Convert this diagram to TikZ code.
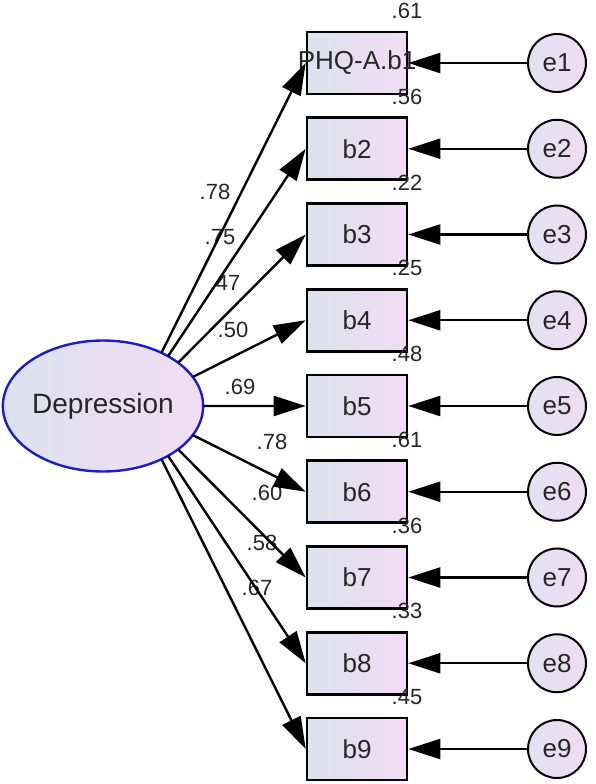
\documentclass[tikz,border=0pt]{standalone}
\usepackage{fontspec}
\setmainfont{Liberation Sans}
\usetikzlibrary{arrows.meta,shapes.geometric,intersections}
\definecolor{txt}{HTML}{262626}
\definecolor{latblue}{HTML}{1C1CC8}
\definecolor{boxleft}{HTML}{DCE2EE}
\definecolor{boxright}{HTML}{F2DCF4}
\definecolor{errleft}{HTML}{E2E2F2}
\definecolor{errright}{HTML}{F0DCF2}

\begin{document}
\begin{tikzpicture}[x=1pt,y=-1pt,>={Triangle[length=32pt,width=20pt]},
    obs/.style={draw,line width=2.6pt,inner sep=0pt,minimum width=100pt,minimum height=62pt,
      left color=boxleft,right color=boxright},
    boxtext/.style={font=\fontsize{26}{30}\selectfont,text=txt},
    err/.style={circle,draw,line width=2pt,inner sep=0pt,minimum size=58pt,
      left color=errleft,right color=errright,font=\fontsize{26}{30}\selectfont,text=txt},
    regline/.style={->,line width=2.4pt},
    coef/.style={font=\fontsize{22}{25}\selectfont,text=txt}]
    \useasboundingbox (0,0) rectangle (595,784);
    % latent factor
    \node[ellipse,draw=latblue,line width=2.4pt,inner sep=0pt,minimum width=200pt,minimum height=131pt,
      left color=boxleft,right color=boxright,font=\fontsize{28}{33}\selectfont,text=txt,
      name path=ell] (dep) at (103,406) {Depression};
    \coordinate (hub) at (135,406);
    % items and errors
    \foreach \t [count=\i] in {PHQ-A.b1,b2,b3,b4,b5,b6,b7,b8,b9} {
      \node[obs,label={[boxtext]center:\t}] (b\i) at (357,{63+85.75*(\i-1)}) {};
      \node[err] (e\i) at (557,{63+85.75*(\i-1)}) {e\i};
    }
    % squared multiple correlations
    \foreach \v [count=\i] in {.61,.56,.22,.25,.48,.61,.36,.33,.45}
      \node[coef] (r\i) at (407,{11+85.75*(\i-1)}) {\v};
    % loadings
    \foreach \v/\x/\y [count=\i] in {.78/215/192,.75/220/237,.47/225/283,.50/233/330,.69/240/387,
      .78/272/442,.60/267/493,.58/262/543,.67/257/588}
      \node[coef] (w\i) at (\x,\y) {\v};
    \foreach \i in {1,...,9} {
      \path[name path=ray\i] (hub) -- (b\i.west);
      \draw[regline,name intersections={of=ell and ray\i}] (intersection-1) -- (b\i.west);
      \draw[regline] (e\i) -- (b\i);
    }
\end{tikzpicture}
\end{document}
